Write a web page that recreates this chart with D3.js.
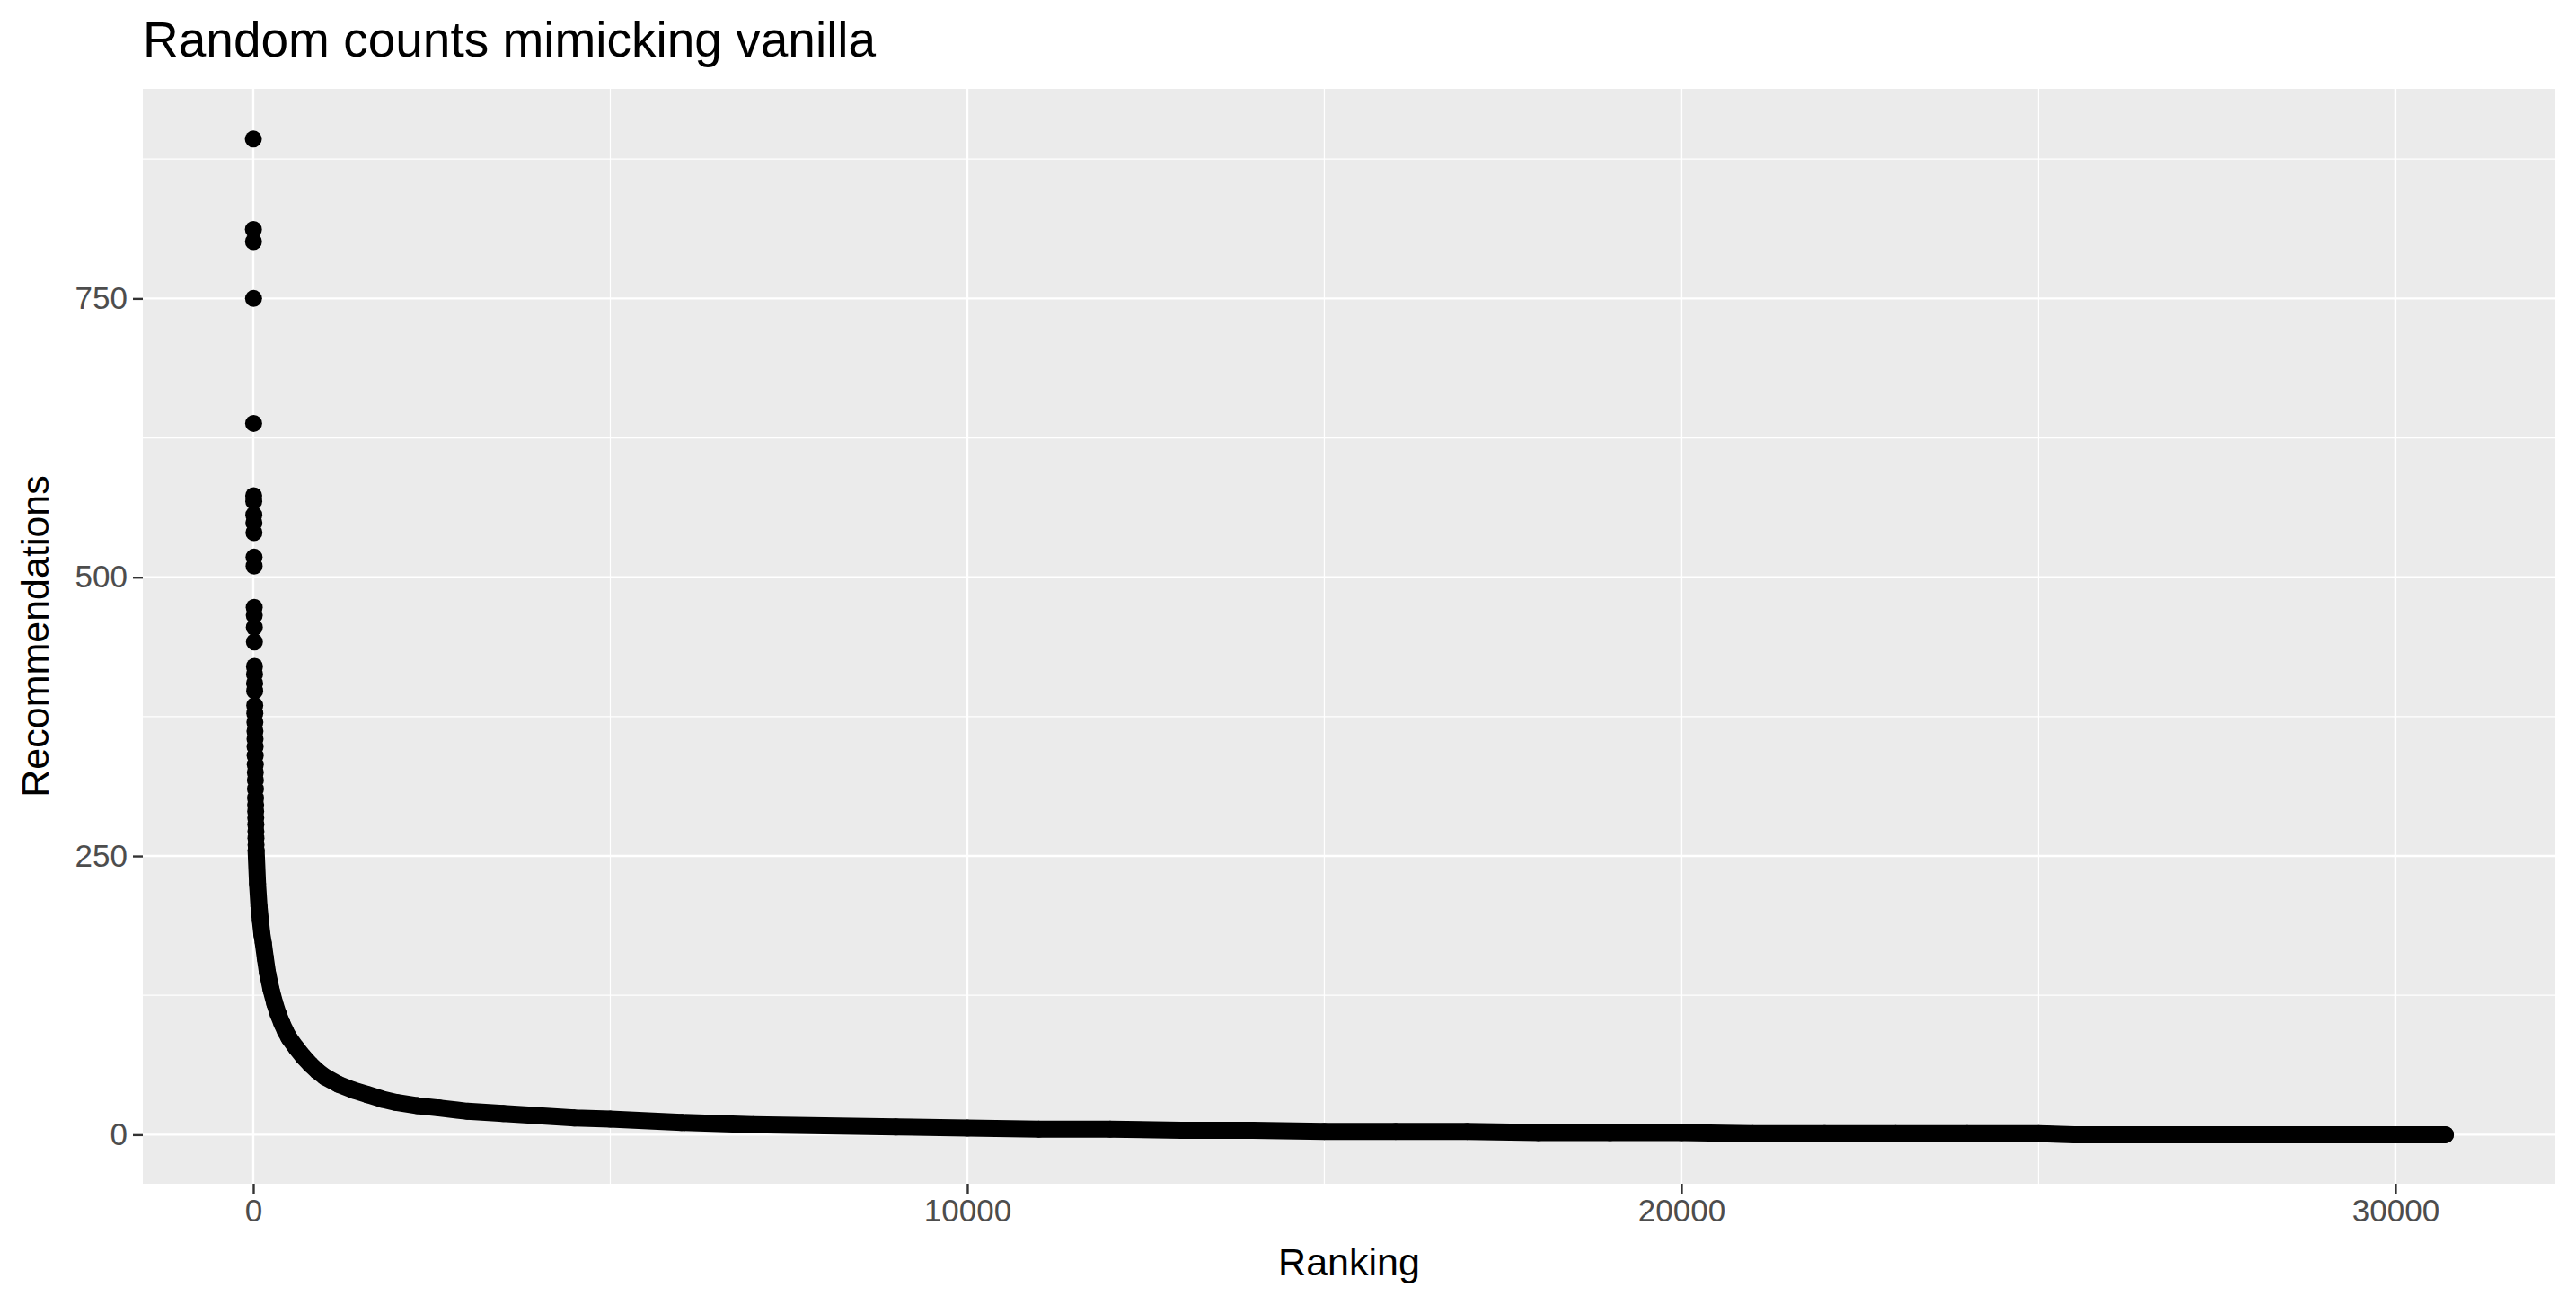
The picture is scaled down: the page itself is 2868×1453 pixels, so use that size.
<!DOCTYPE html>
<html>
<head>
<meta charset="utf-8">
<script src="https://cdn.jsdelivr.net/npm/d3@7"></script>
<style>
  body { margin: 0; background: #fff; }
  text { font-family: "Liberation Sans", Arial, sans-serif; }
</style>
</head>
<body>
<div id="chart"></div>
<script>
// Top-ranked outliers (rank 1..n)
const topValues = [893, 812, 801, 750, 638, 573, 568, 556, 549, 540, 518, 510, 473, 466, 455,
  442, 420, 413, 405, 398, 385, 378, 370, 362, 355, 348, 340, 332, 325, 318, 310, 302, 296,
  290, 284, 278, 272, 266, 260];

// Rest of the curve: ranking vs recommendations
const curveRanks = [40, 60, 80, 100, 120, 140, 170, 200, 250, 300, 350, 400, 450, 500, 600, 700,
  800, 900, 1000, 1200, 1400, 1600, 1800, 2000, 2300, 2600, 3000, 3500, 4000, 4500, 5000, 6000,
  7000, 8000, 9000, 10000, 11000, 12000, 13000, 14000, 15000, 16000, 17000, 18000, 19000, 20000,
  21000, 22000, 23000, 24000, 25000, 25500, 26000, 28000, 30000, 30700];
const curveValues = [255, 225, 205, 192, 180, 172, 158, 145, 130, 118, 108, 100, 93, 87, 78, 70,
  63, 57, 52, 45, 40, 36, 32, 29, 26, 24, 21, 19, 17, 15, 14, 11,
  9, 8, 7, 6, 5, 5, 4, 4, 3, 3, 3, 2, 2, 2,
  1, 1, 1, 1, 1, 0, 0, 0, 0, 0];

const xTicks = [0, 10000, 20000, 30000];
const xMinor = [5000, 15000, 25000];
const yTicks = [0, 250, 500, 750];
const yMinor = [125, 375, 625, 875];

const W = 2868, H = 1453;
const panel = { left: 159, right: 2845, top: 99, bottom: 1318 };
const dotR = 9.5;

const svg = d3.select('#chart').append('svg')
  .attr('width', W).attr('height', H);

const x = d3.scaleLinear().domain([-1547, 32240]).range([panel.left, panel.right]);
const y = d3.scaleLinear().domain([-44, 938]).range([panel.bottom, panel.top]);

// Panel background
svg.append('rect')
  .attr('x', panel.left).attr('y', panel.top)
  .attr('width', panel.right - panel.left).attr('height', panel.bottom - panel.top)
  .attr('fill', '#EBEBEB');

// Grid
const grid = svg.append('g').attr('stroke', '#fff');
grid.selectAll('.xmin').data(xMinor).enter().append('line')
  .attr('x1', d => x(d)).attr('x2', d => x(d))
  .attr('y1', panel.top).attr('y2', panel.bottom).attr('stroke-width', 1.2);
grid.selectAll('.ymin').data(yMinor).enter().append('line')
  .attr('y1', d => y(d)).attr('y2', d => y(d))
  .attr('x1', panel.left).attr('x2', panel.right).attr('stroke-width', 1.2);
grid.selectAll('.xmaj').data(xTicks).enter().append('line')
  .attr('x1', d => x(d)).attr('x2', d => x(d))
  .attr('y1', panel.top).attr('y2', panel.bottom).attr('stroke-width', 2.4);
grid.selectAll('.ymaj').data(yTicks).enter().append('line')
  .attr('y1', d => y(d)).attr('y2', d => y(d))
  .attr('x1', panel.left).attr('x2', panel.right).attr('stroke-width', 2.4);

// Dense body of points drawn as a thick round line (points overlap into a band)
const line = d3.line().x(d => x(d[0])).y(d => y(d[1]));
const curve = curveRanks.map((r, i) => [r, curveValues[i]]);
svg.append('path')
  .attr('d', line(curve))
  .attr('fill', 'none').attr('stroke', '#000')
  .attr('stroke-width', dotR * 2)
  .attr('stroke-linecap', 'round').attr('stroke-linejoin', 'round');

svg.selectAll('.pt').data(curve).enter().append('circle')
  .attr('cx', d => x(d[0])).attr('cy', d => y(d[1])).attr('r', dotR);

svg.selectAll('.top').data(topValues).enter().append('circle')
  .attr('cx', (d, i) => x(i + 1)).attr('cy', d => y(d)).attr('r', dotR);

// Axes
const xAxis = svg.append('g')
  .attr('transform', `translate(0,${panel.bottom})`)
  .call(d3.axisBottom(x).tickValues(xTicks).tickFormat(d3.format('d')).tickSize(11).tickPadding(6));
const yAxis = svg.append('g')
  .attr('transform', `translate(${panel.left},0)`)
  .call(d3.axisLeft(y).tickValues(yTicks).tickSize(11).tickPadding(6));
[xAxis, yAxis].forEach(a => {
  a.select('.domain').remove();
  a.selectAll('line').attr('stroke', '#333').attr('stroke-width', 2.4);
  a.selectAll('text').attr('fill', '#4D4D4D').style('font-size', '35px')
    .style('font-family', '"Liberation Sans", Arial, sans-serif');
});

// Titles
svg.append('text')
  .attr('x', (panel.left + panel.right) / 2).attr('y', 1420)
  .attr('text-anchor', 'middle').style('font-size', '43px').text('Ranking');
svg.append('text')
  .attr('transform', `translate(54,${(panel.top + panel.bottom) / 2}) rotate(-90)`)
  .attr('text-anchor', 'middle').style('font-size', '43px').text('Recommendations');
svg.append('text')
  .attr('x', panel.left).attr('y', 63)
  .style('font-size', '55px').text('Random counts mimicking vanilla');
</script>
</body>
</html>
